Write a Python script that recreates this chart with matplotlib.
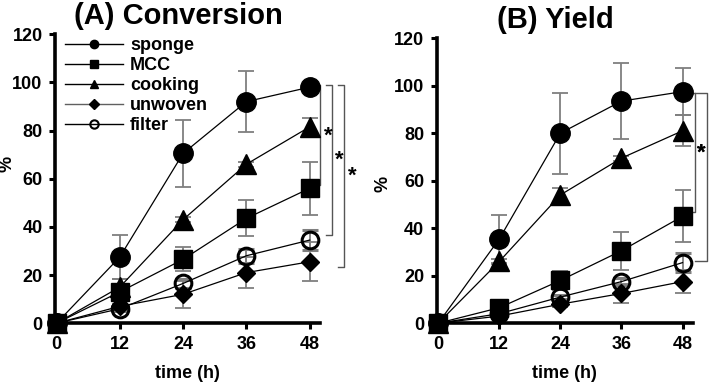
import matplotlib
matplotlib.use('Agg')
import matplotlib.pyplot as plt
from matplotlib.lines import Line2D

plt.rcParams['font.family'] = ['Liberation Sans', 'DejaVu Sans']
plt.rcParams['font.weight'] = 'bold'

time_h = [0, 12, 24, 36, 48]
series = ['sponge', 'MCC', 'cooking', 'unwoven', 'filter']

# (A) Conversion
conv_sponge = [0, 27.5, 70.5, 92, 98]
conv_sponge_err = [0, 9, 14, 12.6, 1]
conv_mcc = [0, 13, 26.5, 43.5, 56]
conv_mcc_err = [0, 3, 5, 7.5, 11]
conv_cooking = [0, 15, 43, 66, 81.5]
conv_cooking_err = [0, 3.5, 1, 1, 3.5]
conv_unwoven = [0, 7, 12, 21, 25.5]
conv_unwoven_err = [0, 1, 5.5, 6.5, 8]
conv_filter = [0, 6, 16.5, 28, 34.5]
conv_filter_err = [0, 1, 2, 3, 4]

# (B) Yield
yld_sponge = [0, 35.5, 80, 93.5, 97.5]
yld_sponge_err = [0, 10, 17, 16, 10]
yld_mcc = [0, 6.5, 18, 30.5, 45]
yld_mcc_err = [0, 1, 4, 8, 11]
yld_cooking = [0, 26, 54, 69.5, 81]
yld_cooking_err = [0, 1, 3, 1, 6.5]
yld_unwoven = [0, 3, 8, 12.5, 17.5]
yld_unwoven_err = [0, 0.5, 1, 4, 5]
yld_filter = [0, 4, 11, 17.5, 25.5]
yld_filter_err = [0, 0.5, 1, 1.5, 4]

styles = {
    'sponge': dict(marker='o', ms=14, mfc='black', mec='black'),
    'MCC': dict(marker='s', ms=13, mfc='black', mec='black'),
    'cooking': dict(marker='^', ms=14, mfc='black', mec='black'),
    'unwoven': dict(marker='D', ms=9, mfc='black', mec='black'),
    'filter': dict(marker='o', ms=12, mfc='none', mec='black', mew=2.2),
}
draw_order = ['sponge', 'cooking', 'unwoven', 'filter', 'MCC']
err_grey = '#7f7f7f'

fig = plt.figure(figsize=(7.09, 3.82), dpi=100)
axA = fig.add_axes([0.0776, 0.154, 0.374, 0.7565])
axB = fig.add_axes([0.616, 0.154, 0.361, 0.746])


def draw_panel(ax, data, title, ylab_xy):
    for name in draw_order:
        y, err = data[name]
        ax.errorbar(time_h, y, yerr=err, color='black', lw=0.9,
                    ecolor=err_grey, elinewidth=1.3, capsize=6, capthick=1.3,
                    clip_on=False, zorder=3, **styles[name])
    ax.set_xlim(-0.3, 50)
    ax.set_ylim(0, 120)
    ax.set_xticks(time_h)
    ax.set_yticks(range(0, 121, 20))
    for s in ['top', 'right']:
        ax.spines[s].set_visible(False)
    for s in ['left', 'bottom']:
        ax.spines[s].set_linewidth(2.6)
    ax.tick_params(direction='out', length=4, width=2.2, labelsize=13, pad=5)
    for lab in ax.get_xticklabels() + ax.get_yticklabels():
        lab.set_fontweight('bold')
    ax.set_xlabel('time (h)', fontsize=13, fontweight='bold', labelpad=9)
    ax.set_ylabel('%', fontsize=13, fontweight='bold')
    ax.yaxis.set_label_coords(*ylab_xy)
    ax.set_title(title, fontsize=21, fontweight='bold', x=0.465, pad=7)


def bracket(ax, x, y_top, y_bot, stub, star_x, star_y):
    ax.plot([x - stub, x, x, x - stub], [y_top, y_top, y_bot, y_bot],
            color='#555555', lw=1.0, clip_on=False)
    ax.text(star_x, star_y, '*', fontsize=16, fontweight='bold',
            ha='center', va='center', clip_on=False)


draw_panel(axA, {
    'sponge': (conv_sponge, conv_sponge_err),
    'MCC': (conv_mcc, conv_mcc_err),
    'cooking': (conv_cooking, conv_cooking_err),
    'unwoven': (conv_unwoven, conv_unwoven_err),
    'filter': (conv_filter, conv_filter_err),
}, '(A) Conversion', (-0.148, 0.55))

draw_panel(axB, {
    'sponge': (yld_sponge, yld_sponge_err),
    'MCC': (yld_mcc, yld_mcc_err),
    'cooking': (yld_cooking, yld_cooking_err),
    'unwoven': (yld_unwoven, yld_unwoven_err),
    'filter': (yld_filter, yld_filter_err),
}, '(B) Yield', (-0.175, 0.49))

# significance brackets
bracket(axA, 50.0, 98.8, 57.3, 0.8, 51.5, 77.5)
bracket(axA, 52.3, 98.8, 36.5, 1.2, 53.7, 67.5)
bracket(axA, 54.6, 98.8, 23.4, 1.2, 56.1, 61)
bracket(axB, 50.4, 97, 47, 0.8, 51.7, 71.5)
bracket(axB, 52.9, 97, 26, 2.4, 51.7, 71.5)

# legend with small markers
handles = []
for name in series:
    st = dict(styles[name])
    st['ms'] = 6 if name != 'unwoven' else 5
    if name == 'filter':
        st['mew'] = 1.5
    col = '#606060' if name == 'unwoven' else 'black'
    handles.append(Line2D([], [], color=col, lw=1.0, **st))
axA.legend(handles, series, loc='upper left', bbox_to_anchor=(0.01, 1.015),
           frameon=False, fontsize=13, handlelength=3.2, handletextpad=0.4,
           labelspacing=0.17, borderaxespad=0)

fig.savefig('out.png', dpi=100)
